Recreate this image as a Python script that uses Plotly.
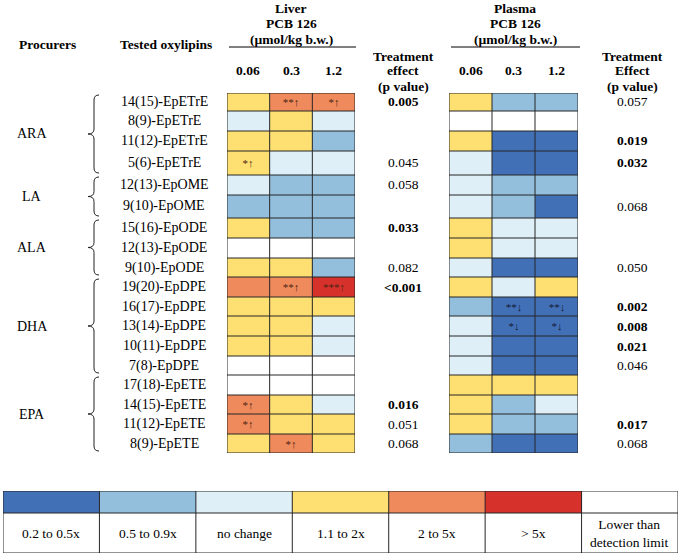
import plotly.graph_objects as go

# ---------------- data ----------------
oxylipins = ["14(15)-EpETrE", "8(9)-EpETrE", "11(12)-EpETrE", "5(6)-EpETrE",
             "12(13)-EpOME", "9(10)-EpOME",
             "15(16)-EpODE", "12(13)-EpODE", "9(10)-EpODE",
             "19(20)-EpDPE", "16(17)-EpDPE", "13(14)-EpDPE", "10(11)-EpDPE", "7(8)-EpDPE",
             "17(18)-EpETE", "14(15)-EpETE", "11(12)-EpETE", "8(9)-EpETE"]
procurers = ["ARA", "LA", "ALA", "DHA", "EPA"]
procurer_counts = [4, 2, 3, 5, 4]
doses = ["0.06", "0.3", "1.2"]

# category codes: 0=0.2-0.5x, 1=0.5-0.9x, 2=no change, 3=1.1-2x, 4=2-5x, 5=>5x, 6=below detection
liver_codes = [[3, 4, 4], [2, 3, 2], [3, 3, 1], [3, 2, 2],
               [2, 1, 1], [1, 1, 1],
               [3, 1, 1], [6, 6, 6], [3, 3, 1],
               [4, 4, 5], [3, 3, 3], [3, 3, 2], [3, 3, 2], [6, 6, 6],
               [6, 6, 6], [4, 3, 2], [4, 3, 3], [3, 4, 3]]
liver_marks = [["", "**↑", "*↑"], ["", "", ""], ["", "", ""], ["*↑", "", ""],
               ["", "", ""], ["", "", ""],
               ["", "", ""], ["", "", ""], ["", "", ""],
               ["", "**↑", "***↑"], ["", "", ""], ["", "", ""], ["", "", ""], ["", "", ""],
               ["", "", ""], ["*↑", "", ""], ["*↑", "", ""], ["", "*↑", ""]]
liver_p = ["0.005", "", "", "0.045", "0.058", "", "0.033", "", "0.082",
           "<0.001", "", "", "", "", "", "0.016", "0.051", "0.068"]
liver_p_bold = [True, False, False, False, False, False, True, False, False,
                True, False, False, False, False, False, True, False, False]

plasma_codes = [[3, 1, 1], [6, 6, 6], [3, 0, 0], [2, 0, 0],
                [2, 1, 1], [2, 1, 0],
                [3, 2, 2], [3, 2, 2], [2, 0, 0],
                [3, 2, 3], [1, 0, 0], [2, 0, 0], [2, 0, 0], [2, 0, 0],
                [3, 3, 3], [3, 1, 2], [3, 1, 1], [1, 0, 0]]
plasma_marks = [["", "", ""]] * 10 + [["", "**↓", "**↓"], ["", "*↓", "*↓"]] + [["", "", ""]] * 6
plasma_p = ["0.057", "", "0.019", "0.032", "", "0.068", "", "", "0.050",
            "", "0.002", "0.008", "0.021", "0.046", "", "", "0.017", "0.068"]
plasma_p_bold = [False, False, True, True, False, False, False, False, False,
                 False, True, True, True, False, False, False, True, False]

legend_labels = ["0.2 to 0.5x", "0.5 to 0.9x", "no change", "1.1 to 2x",
                 "2 to 5x", "> 5x", "Lower than<br>detection limit"]
category_colors = ["#4270B7", "#93BFDD", "#DEEFF7", "#FEDF72", "#EF8A5C", "#D6322B", "#FFFFFF"]

# ---------------- layout (pixel positions) ----------------
W, H = 681, 556
FONT = "Liberation Serif"
ROW_EDGES = [93, 111, 131, 151, 175, 195, 218, 238, 258, 277, 297, 316, 336, 356,
             375, 395, 414, 434, 453]
LIVER_X = (227, 355)
PLASMA_X = (449, 578)
LEG_X = (3, 678)
LEG_TOP, LEG_MID, LEG_BOT = 491, 513, 553


def px(x):
    return x / W


def py(y):
    return 1 - y / H


n = len(category_colors)
cscale = []
for i, c in enumerate(category_colors):
    cscale.append([i / n, c])
    cscale.append([(i + 1) / n, c])

row_centers = [(a + b) / 2 for a, b in zip(ROW_EDGES[:-1], ROW_EDGES[1:])]
cols = list(range(len(doses)))

fig = go.Figure()
fig.add_trace(go.Heatmap(
    z=liver_codes, x=cols, y=ROW_EDGES, text=liver_marks, texttemplate="%{text}",
    textfont=dict(family=FONT, size=11, color="#4a2412"),
    colorscale=cscale, zmin=-0.5, zmax=n - 0.5, showscale=False,
    hoverinfo="skip", xaxis="x", yaxis="y"))
fig.add_trace(go.Heatmap(
    z=plasma_codes, x=cols, y=ROW_EDGES, text=plasma_marks, texttemplate="%{text}",
    textfont=dict(family=FONT, size=11, color="#151a33"),
    colorscale=cscale, zmin=-0.5, zmax=n - 0.5, showscale=False,
    hoverinfo="skip", xaxis="x2", yaxis="y"))

# legend as a two-row heatmap (colour swatch row + white label row)
fig.add_trace(go.Heatmap(
    z=[list(range(n)), [6] * n], x=list(range(n)), y=[LEG_TOP, LEG_MID, LEG_BOT],
    colorscale=cscale, zmin=-0.5, zmax=n - 0.5, showscale=False,
    hoverinfo="skip", xaxis="x3", yaxis="y3"))

hidden = dict(visible=False, showgrid=False, zeroline=False, fixedrange=True)
fig.update_layout(
    width=W, height=H, margin=dict(l=0, r=0, t=0, b=0),
    paper_bgcolor="white", plot_bgcolor="white",
    font=dict(family=FONT, size=13, color="black"),
    xaxis=dict(domain=[px(LIVER_X[0]), px(LIVER_X[1])], range=[-0.5, 2.5], anchor="y", **hidden),
    xaxis2=dict(domain=[px(PLASMA_X[0]), px(PLASMA_X[1])], range=[-0.5, 2.5], anchor="y", **hidden),
    yaxis=dict(domain=[py(ROW_EDGES[-1]), py(ROW_EDGES[0])], range=[ROW_EDGES[-1], ROW_EDGES[0]],
               anchor="x", **hidden),
    xaxis3=dict(domain=[px(LEG_X[0]), px(LEG_X[1])], range=[-0.5, n - 0.5], anchor="y3", **hidden),
    yaxis3=dict(domain=[py(LEG_BOT), py(LEG_TOP)], range=[LEG_BOT, LEG_TOP], anchor="x3", **hidden),
    showlegend=False,
)

shapes = []
LINE = dict(color="#262626", width=1)
for xa in ["x", "x2"]:
    for c in range(len(doses) + 1):
        shapes.append(dict(type="line", xref=xa, yref="y", x0=c - 0.5, x1=c - 0.5,
                           y0=ROW_EDGES[0], y1=ROW_EDGES[-1], line=LINE, layer="above"))
    for e in ROW_EDGES:
        shapes.append(dict(type="line", xref=xa, yref="y", x0=-0.5, x1=2.5,
                           y0=e, y1=e, line=LINE, layer="above"))
# legend grid
shapes.append(dict(type="rect", xref="x3", yref="y3", x0=-0.5, x1=n - 0.5, y0=LEG_TOP,
                   y1=LEG_BOT, line=LINE, layer="above"))
shapes.append(dict(type="line", xref="x3", yref="y3", x0=-0.5, x1=n - 0.5, y0=LEG_MID,
                   y1=LEG_MID, line=LINE, layer="above"))
for c in range(1, n):
    shapes.append(dict(type="line", xref="x3", yref="y3", x0=c - 0.5, x1=c - 0.5, y0=LEG_TOP,
                       y1=LEG_BOT, line=LINE, layer="above"))

# header rules under "(µmol/kg b.w.)"
for x0, x1 in [(229, 356), (451, 580)]:
    shapes.append(dict(type="line", xref="paper", yref="paper", x0=px(x0), x1=px(x1),
                       y0=py(47), y1=py(47), line=dict(color="black", width=1)))

# braces
bx_tip, bx_spine, bx_end = px(88), px(94), px(99)
group_bounds = []
start = 0
for cnt in procurer_counts:
    group_bounds.append((ROW_EDGES[start], ROW_EDGES[start + cnt]))
    start += cnt
for y_top, y_bot in group_bounds:
    y0, y1 = y_top + 2, y_bot - 2
    ym = (y0 + y1) / 2
    r = 5
    path = (f"M {bx_end},{y0} Q {bx_spine},{y0} {bx_spine},{y0 + r} "
            f"L {bx_spine},{ym - r} Q {bx_spine},{ym} {bx_tip},{ym} "
            f"Q {bx_spine},{ym} {bx_spine},{ym + r} "
            f"L {bx_spine},{y1 - r} Q {bx_spine},{y1} {bx_end},{y1}")
    shapes.append(dict(type="path", xref="paper", yref="y", path=path,
                       line=dict(color="#222", width=1)))
fig.update_layout(shapes=shapes)

ann = []


def t(x, y, s, size=13.5, bold=False, xref="paper", yref="paper"):
    ann.append(dict(x=x, y=y, xref=xref, yref=yref, text=f"<b>{s}</b>" if bold else s,
                    showarrow=False, xanchor="center", yanchor="middle", align="center",
                    font=dict(family=FONT, size=size, color="black")))


# headers
t(px(47), py(45), "Procurers", bold=True)
t(px(166), py(45), "Tested oxylipins", bold=True)
for cx, title in [(291, "Liver"), (515, "Plasma")]:
    t(px(cx), py(8), title, bold=True)
    t(px(cx), py(24), "PCB 126", bold=True)
    t(px(cx), py(39), "(µmol/kg b.w.)", bold=True)
for xa in ["x", "x2"]:
    for c, d in enumerate(doses):
        ann.append(dict(x=c, y=py(70), xref=xa, yref="paper", text=f"<b>{d}</b>",
                        showarrow=False, xanchor="center", yanchor="middle",
                        font=dict(family=FONT, size=13.5, color="black")))
for cx, lines in [(403, ["Treatment", "effect", "(p value)"]),
                  (632, ["Treatment", "Effect", "(p value)"])]:
    for k, s in enumerate(lines):
        t(px(cx), py(56 + 15 * k), s, bold=True)

# row labels and p values
for i, lab in enumerate(oxylipins):
    yc = row_centers[i]
    t(px(164), yc, lab, yref="y", size=14)
    if liver_p[i]:
        t(px(403), yc, liver_p[i], yref="y", bold=liver_p_bold[i])
    if plasma_p[i]:
        t(px(632), yc, plasma_p[i], yref="y", bold=plasma_p_bold[i])

# procurer names
for name, (y_top, y_bot) in zip(procurers, group_bounds):
    t(px(32), (y_top + y_bot) / 2, name, yref="y", size=14)

# legend labels
for i, lab in enumerate(legend_labels):
    t(i, (LEG_MID + LEG_BOT) / 2, lab, xref="x3", yref="y3")

fig.update_layout(annotations=ann)
fig.write_html("out.html", config={"displayModeBar": False},
               post_script="document.body.style.margin='0';")
